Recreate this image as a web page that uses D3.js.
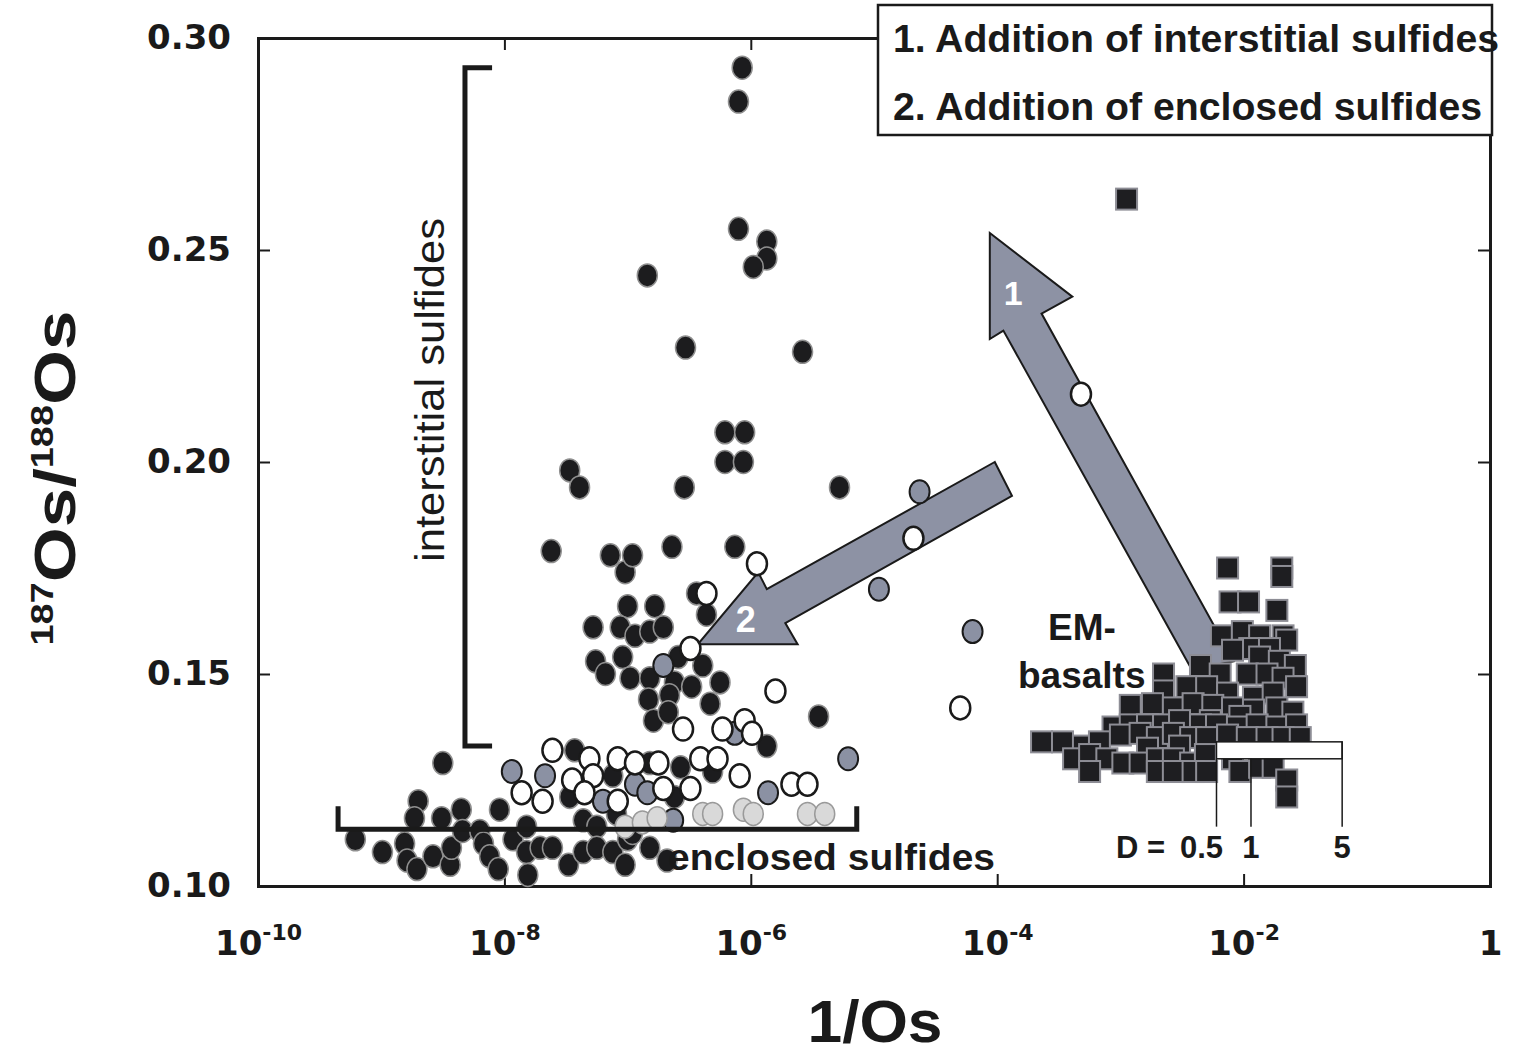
<!DOCTYPE html>
<html lang="en">
<head>
<meta charset="UTF-8">
<script src="https://cdn.jsdelivr.net/npm/d3@7"></script>
<title>187Os/188Os vs 1/Os</title>
<style>
  body { margin: 0; background: #fff; }
  svg { display: block; background: #fff; }
  .tick text { font-family: "DejaVu Sans", sans-serif; font-weight: bold; font-size: 34px; fill: #1a1a1a; }
  .tick line { stroke: #1a1a1a; stroke-width: 2; }
  .domain { stroke: #1a1a1a; stroke-width: 3; stroke-linecap: square; }
  .lbl { font-family: "Liberation Sans", Arial, sans-serif; font-weight: bold; fill: #1a1a1a; }
</style>
</head>
<body>
<div id="chart"></div>
<script>
// points are [log10(1/Os), 187Os/188Os]
var interstitial = [
  [-6.07,0.293],[-6.10,0.285],[-6.84,0.244],[-6.10,0.255],[-5.87,0.252],[-5.87,0.248],[-5.98,0.246],
  [-6.53,0.227],[-5.58,0.226],[-6.21,0.207],[-6.05,0.207],[-6.21,0.200],[-6.06,0.200],[-7.47,0.198],
  [-7.39,0.194],[-6.54,0.194],[-5.28,0.194],[-7.62,0.179],[-7.14,0.178],[-7.02,0.174],[-6.96,0.178],
  [-6.64,0.180],[-6.13,0.180],[-6.44,0.169],[-6.36,0.164],[-7.00,0.166],[-6.78,0.166],[-7.28,0.161],
  [-7.06,0.161],[-6.94,0.159],[-6.82,0.160],[-6.71,0.161],[-7.26,0.153],[-7.18,0.150],[-7.04,0.154],
  [-6.59,0.154],[-6.98,0.149],[-6.82,0.149],[-6.62,0.148],[-6.48,0.147],[-6.39,0.152],[-6.25,0.148],
  [-6.83,0.144],[-6.66,0.145],[-6.33,0.143],[-6.79,0.139],[-6.67,0.141],[-5.87,0.133],[-5.45,0.140],
  [-9.21,0.111],[-8.99,0.108],[-8.81,0.110],[-8.79,0.106],[-8.71,0.104],[-8.70,0.120],[-8.73,0.116],
  [-8.58,0.107],[-8.51,0.116],[-8.50,0.129],[-8.44,0.105],[-8.43,0.109],[-8.35,0.118],[-8.34,0.113],
  [-8.20,0.113],[-8.17,0.110],[-8.12,0.107],[-8.05,0.104],[-8.04,0.118],[-7.93,0.111],[-7.82,0.114],
  [-7.82,0.108],[-7.81,0.1026],[-7.71,0.109],[-7.61,0.109],[-7.48,0.105],[-7.43,0.132],[-7.47,0.121],
  [-7.36,0.1155],[-7.36,0.108],[-7.25,0.114],[-7.25,0.109],[-7.12,0.126],[-7.12,0.108],[-7.09,0.117],
  [-7.02,0.105],[-7.00,0.111],[-6.96,0.1125],[-6.82,0.129],[-6.82,0.109],[-6.68,0.106],[-6.62,0.121],
  [-6.57,0.128],[-6.31,0.127]
];
var enclosedGray = [
  [-7.94,0.127],[-7.67,0.126],[-7.20,0.120],[-6.94,0.124],[-6.84,0.122],[-6.63,0.1155],[-5.86,0.122],
  [-5.21,0.130],[-6.71,0.152],[-6.13,0.136],[-4.63,0.193],[-4.96,0.170],[-4.20,0.160]
];
var enclosedLight = [
  [-6.39,0.117],[-6.31,0.117],[-6.06,0.118],[-5.98,0.117],[-5.54,0.117],[-5.40,0.117],
  [-7.02,0.114],[-6.88,0.115],[-6.76,0.116]
];
var enclosedWhite = [
  [-7.61,0.132],[-7.86,0.122],[-7.69,0.120],[-7.45,0.125],[-7.31,0.130],[-7.28,0.126],[-7.35,0.122],
  [-7.08,0.130],[-7.08,0.120],[-6.94,0.129],[-6.75,0.129],[-6.71,0.123],[-6.49,0.123],[-6.41,0.130],
  [-6.27,0.130],[-6.09,0.126],[-5.67,0.124],[-5.54,0.124],[-6.55,0.137],[-6.23,0.137],[-6.05,0.139],
  [-5.99,0.136],[-5.80,0.146],[-6.49,0.156],[-6.36,0.169],[-5.95,0.176],[-4.68,0.182],[-4.30,0.142],
  [-3.32,0.216]
];
var emBasalts = [
  [-2.95,0.262],[-2.13,0.175],[-1.69,0.175],[-1.69,0.173],[-2.11,0.167],[-1.96,0.167],[-1.73,0.165],
  [-2.18,0.159],[-2.01,0.160],[-1.87,0.159],[-1.68,0.159],[-1.65,0.158],[-1.95,0.156],[-1.79,0.156],
  [-2.09,0.1556],[-1.87,0.154],[-1.71,0.153],[-1.58,0.152],[-2.65,0.150],[-2.35,0.152],[-2.19,0.150],
  [-1.97,0.150],[-1.81,0.150],[-1.68,0.149],[-1.57,0.147],[-2.65,0.146],[-2.46,0.147],[-2.30,0.147],
  [-2.13,0.1455],[-1.92,0.1445],[-1.76,0.1455],[-2.92,0.1426],[-2.74,0.143],[-2.57,0.142],[-2.41,0.143],
  [-2.25,0.1426],[-2.09,0.142],[-1.92,0.1415],[-1.73,0.142],[-1.60,0.141],[-2.03,0.140],[-2.27,0.139],
  [-3.06,0.1375],[-2.92,0.138],[-2.78,0.138],[-2.65,0.138],[-2.52,0.139],[-2.35,0.138],[-2.22,0.138],
  [-2.05,0.1375],[-1.89,0.138],[-1.73,0.1375],[-1.57,0.138],[-3.64,0.134],[-3.47,0.134],[-3.30,0.133],
  [-3.17,0.134],[-3.00,0.1356],[-2.84,0.136],[-2.70,0.135],[-2.57,0.136],[-2.43,0.135],[-2.30,0.135],
  [-2.13,0.1356],[-1.97,0.135],[-1.81,0.135],[-1.68,0.135],[-1.54,0.135],[-2.78,0.1325],[-2.52,0.133],
  [-3.38,0.130],[-3.25,0.131],[-3.11,0.130],[-2.98,0.129],[-2.84,0.129],[-2.70,0.130],[-2.57,0.130],
  [-2.43,0.129],[-2.31,0.131],[-2.09,0.130],[-3.25,0.127],[-2.70,0.127],[-2.57,0.127],[-2.41,0.127],
  [-2.30,0.127],[-2.03,0.127],[-1.87,0.128],[-1.76,0.128],[-1.65,0.125],[-1.65,0.121]
];
var xTicks = [-10, -8, -6, -4, -2, 0];
var yTicks = [0.10, 0.15, 0.20, 0.25, 0.30];

// annotation shapes, same units
var arrow1 = [[-2.42,0.151],[-3.95,0.231],[-4.06,0.229],[-4.06,0.254],[-3.39,0.239],[-3.64,0.235],[-2.08,0.153]];
var arrow2 = [[-4.02,0.200],[-5.87,0.170],[-5.94,0.174],[-6.43,0.157],[-5.62,0.157],[-5.72,0.162],[-3.88,0.192]];
var bracketInter = [[-8.10,0.293],[-8.32,0.293],[-8.32,0.133],[-8.10,0.133]];
var bracketEncl = [[-9.35,0.1188],[-9.35,0.1134],[-5.14,0.1134],[-5.14,0.1188]];
var dPos = [-2.22, -1.94, -1.20];
var dLabels = ["0.5", "1", "5"];

var width = 1528, height = 1057;
var svg = d3.select("#chart").append("svg")
  .attr("width", width)
  .attr("height", height);

var x = d3.scaleLog().domain([1e-10, 1]).range([258, 1490]);
var y = d3.scaleLinear().domain([0.10, 0.30]).range([886, 38]);
function px(d) { return x(Math.pow(10, d[0])); }
function py(d) { return y(d[1]); }
var line = d3.line().x(px).y(py);

// frame + inward ticks
svg.append("g")
  .attr("transform", "translate(258,0)")
  .call(d3.axisLeft(y).tickValues(yTicks).tickSize(-12).tickSizeOuter(0).tickPadding(27).tickFormat(d3.format(".2f")));

svg.append("g")
  .attr("transform", "translate(1490,0)")
  .call(d3.axisRight(y).tickValues(yTicks).tickSize(-12).tickSizeOuter(0).tickFormat(""));

svg.append("g")
  .attr("transform", "translate(0,38)")
  .call(d3.axisTop(x).tickValues(xTicks.map(function(e) { return Math.pow(10, e); })).tickSize(-12).tickSizeOuter(0).tickFormat(""));

var xg = svg.append("g")
  .attr("transform", "translate(0,886)")
  .call(d3.axisBottom(x).tickValues(xTicks.map(function(e) { return Math.pow(10, e); })).tickSize(-12).tickSizeOuter(0));

xg.selectAll(".tick text").each(function(d) {
  var t = d3.select(this).text("").attr("y", 69).attr("dy", null);
  var e = Math.round(Math.log10(d));
  if (e === 0) { t.text("1"); return; }
  t.append("tspan").text("10");
  t.append("tspan").attr("font-size", 22).attr("dy", -15).text(e);
});

// arrows (under the markers)
[arrow1, arrow2].forEach(function(a) {
  svg.append("path")
    .attr("d", line(a) + "Z")
    .attr("fill", "#8d92a4")
    .attr("stroke", "#1a1a1a")
    .attr("stroke-width", 2)
    .attr("stroke-linejoin", "miter");
});

svg.append("text").attr("class", "lbl")
  .attr("x", px([-3.87])).attr("y", y(0.240)).attr("dy", "0.36em")
  .attr("text-anchor", "middle").attr("font-size", 34).style("fill", "#fff")
  .text("1");
svg.append("text").attr("class", "lbl")
  .attr("x", px([-6.04])).attr("y", y(0.163)).attr("dy", "0.36em")
  .attr("text-anchor", "middle").attr("font-size", 36).style("fill", "#fff")
  .text("2");

// EM basalts squares
var sq = 21;
svg.append("g").selectAll("rect")
  .data(emBasalts)
  .enter()
  .append("rect")
  .attr("x", function(d) { return px(d) - sq / 2; })
  .attr("y", function(d) { return py(d) - sq / 2; })
  .attr("width", sq)
  .attr("height", sq)
  .attr("fill", "#1e1e21")
  .attr("stroke", "#8d8d95")
  .attr("stroke-width", 2);

// sulfide circles
function dots(data, fill, stroke, sw) {
  svg.append("g").selectAll("ellipse")
    .data(data)
    .enter()
    .append("ellipse")
    .attr("cx", px)
    .attr("cy", py)
    .attr("rx", 10)
    .attr("ry", 11.5)
    .attr("fill", fill)
    .attr("stroke", stroke)
    .attr("stroke-width", sw);
}
dots(interstitial, "#1c1c1e", "#8f8f8f", 1.5);
dots(enclosedGray, "#8b91a3", "#1a1a1a", 2);
dots(enclosedLight, "#d9d9d9", "#9a9a9a", 1.5);
dots(enclosedWhite, "#ffffff", "#1a1a1a", 2.5);

// brackets
[bracketInter, bracketEncl].forEach(function(b) {
  svg.append("path")
    .attr("d", line(b))
    .attr("fill", "none")
    .attr("stroke", "#1a1a1a")
    .attr("stroke-width", 5);
});

svg.append("text").attr("class", "lbl")
  .attr("transform", "translate(444,390) rotate(-90)")
  .attr("text-anchor", "middle")
  .style("font-weight", "normal")
  .attr("font-size", 41)
  .attr("textLength", 344).attr("lengthAdjust", "spacingAndGlyphs")
  .text("interstitial sulfides");

svg.append("text").attr("class", "lbl")
  .attr("x", 668).attr("y", 870)
  .attr("font-size", 36)
  .attr("textLength", 327).attr("lengthAdjust", "spacingAndGlyphs")
  .text("enclosed sulfides");

// D scale
svg.append("rect")
  .attr("x", px([dPos[0]])).attr("y", y(0.134))
  .attr("width", px([dPos[2]]) - px([dPos[0]]))
  .attr("height", y(0.130) - y(0.134))
  .attr("fill", "#fff").attr("stroke", "#1a1a1a").attr("stroke-width", 1.5);
svg.append("g").selectAll("line")
  .data(dPos)
  .enter()
  .append("line")
  .attr("x1", function(d) { return px([d]); })
  .attr("x2", function(d) { return px([d]); })
  .attr("y1", function(d, i) { return i === 2 ? y(0.134) : y(0.130); })
  .attr("y2", y(0.114))
  .attr("stroke", "#1a1a1a").attr("stroke-width", 1.5);
svg.append("g").selectAll("text")
  .data(dLabels)
  .enter()
  .append("text").attr("class", "lbl")
  .attr("x", function(d, i) { return px([dPos[i]]) + (i === 0 ? -15 : 0); })
  .attr("y", 858)
  .attr("text-anchor", "middle")
  .attr("font-size", 31)
  .text(function(d) { return d; });
svg.append("text").attr("class", "lbl")
  .attr("x", 1165).attr("y", 858)
  .attr("text-anchor", "end").attr("font-size", 31)
  .text("D =");

svg.append("text").attr("class", "lbl")
  .attr("x", 1048).attr("y", 640).attr("font-size", 37)
  .text("EM-");
svg.append("text").attr("class", "lbl")
  .attr("x", 1018).attr("y", 688).attr("font-size", 37)
  .text("basalts");

// legend box
svg.append("rect")
  .attr("x", 878).attr("y", 5).attr("width", 614).attr("height", 130)
  .attr("fill", "#fff").attr("stroke", "#1a1a1a").attr("stroke-width", 2.5);
svg.append("text").attr("class", "lbl")
  .attr("x", 893).attr("y", 52).attr("font-size", 38)
  .attr("textLength", 606).attr("lengthAdjust", "spacingAndGlyphs")
  .text("1. Addition of interstitial sulfides");
svg.append("text").attr("class", "lbl")
  .attr("x", 893).attr("y", 120).attr("font-size", 38)
  .attr("textLength", 589).attr("lengthAdjust", "spacingAndGlyphs")
  .text("2. Addition of enclosed sulfides");

// axis titles
svg.append("text").attr("class", "lbl")
  .attr("x", 875).attr("y", 1042)
  .attr("text-anchor", "middle").attr("font-size", 60)
  .attr("textLength", 135).attr("lengthAdjust", "spacingAndGlyphs")
  .text("1/Os");

var yt = svg.append("text").attr("class", "lbl")
  .attr("text-anchor", "middle");
yt.append("tspan").attr("font-size", 31).attr("dy", -22).text("187");
yt.append("tspan").attr("font-size", 58).attr("dy", 22).text("Os/");
yt.append("tspan").attr("font-size", 31).attr("dy", -22).text("188");
yt.append("tspan").attr("font-size", 58).attr("dy", 22).text("Os");
var ytw = yt.node().getComputedTextLength();
yt.attr("transform", "translate(75,478) rotate(-90) scale(" + (335 / ytw) + ",1)");
</script>
</body>
</html>
